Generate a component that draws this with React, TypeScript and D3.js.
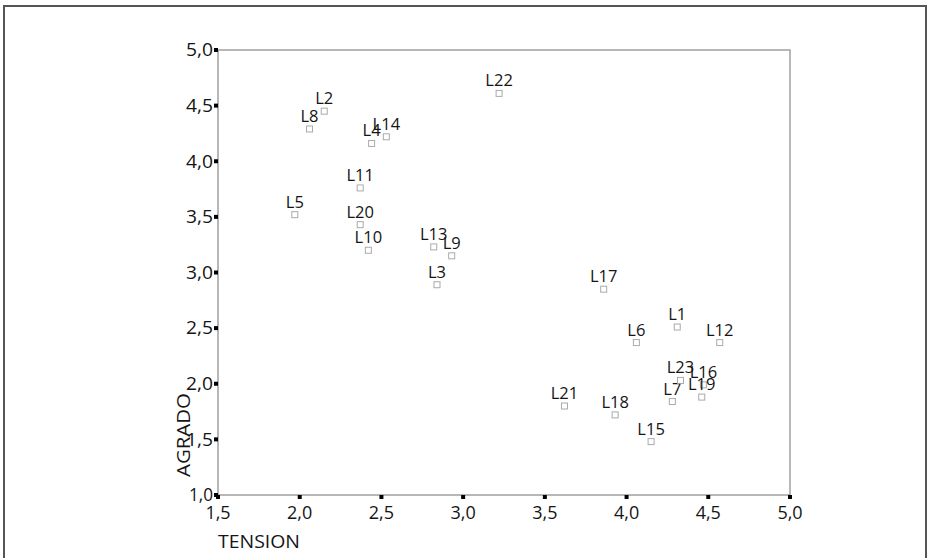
import * as d3 from 'd3';

const names = ['L1', 'L2', 'L3', 'L4', 'L5', 'L6', 'L7', 'L8', 'L9', 'L10', 'L11', 'L12',
  'L13', 'L14', 'L15', 'L16', 'L17', 'L18', 'L19', 'L20', 'L21', 'L22', 'L23'];
const tension = [4.31, 2.15, 2.84, 2.44, 1.97, 4.06, 4.28, 2.06, 2.93, 2.42, 2.37, 4.57,
  2.82, 2.53, 4.15, 4.47, 3.86, 3.93, 4.46, 2.37, 3.62, 3.22, 4.33];
const agrado = [2.51, 4.45, 2.89, 4.16, 3.52, 2.37, 1.84, 4.29, 3.15, 3.2, 3.76, 2.37,
  3.23, 4.22, 1.48, 1.99, 2.85, 1.72, 1.88, 3.43, 1.8, 4.61, 2.03];
const xTicks = [1.5, 2.0, 2.5, 3.0, 3.5, 4.0, 4.5, 5.0];
const yTicks = [1.0, 1.5, 2.0, 2.5, 3.0, 3.5, 4.0, 4.5, 5.0];

const W = 931;
const H = 558;
const font = '"Open Sans", "Noto Sans", sans-serif';
const ink = '#151515';

const fmt = (v: number) => v.toFixed(1).replace('.', ',');

export default function App() {
  const x = d3.scaleLinear().domain([1.5, 5]).range([218, 790]);
  const y = d3.scaleLinear().domain([1, 5]).range([495, 50]);
  const [x0, x1] = x.range();
  const [y0, y1] = y.range();

  return (
    <div style={{ position: 'fixed', left: 0, top: 0 }}>
      <svg width={W} height={H} style={{ display: 'block', background: '#fff' }}>
        {/* outer frame */}
        <rect x={4} y={6} width={922} height={H + 10} fill="none" stroke="#555" strokeWidth={2} />

        {/* plot box */}
        <rect x={x0} y={y1} width={x1 - x0} height={y0 - y1} fill="none" stroke="#a0a0a0" strokeWidth={1.5} />

        {/* y ticks */}
        {yTicks.map((t) => (
          <g key={'y' + t}>
            <rect x={x0 - 4} y={y(t) - 2} width={4} height={4} fill="#000" />
            <text x={x0 - 5} y={y(t)} dy="0.35em" textAnchor="end" fontFamily={font} fontSize={18} fill={ink}
              textLength={t === 1 ? 24 : 27} lengthAdjust="spacingAndGlyphs">
              {fmt(t)}
            </text>
          </g>
        ))}

        {/* x ticks */}
        {xTicks.map((t) => (
          <g key={'x' + t}>
            <rect x={x(t) - 2} y={y0} width={4} height={4} fill="#000" />
            <text x={x(t)} y={y0 + 24} textAnchor="middle" fontFamily={font} fontSize={18} fill={ink}>
              {fmt(t)}
            </text>
          </g>
        ))}

        {/* axis titles */}
        <text x={x0} y={548} fontFamily={font} fontSize={19} fill={ink} textLength={82} lengthAdjust="spacingAndGlyphs">
          TENSION
        </text>
        <text transform={`translate(190,435) rotate(-90)`} textAnchor="middle" fontFamily={font} fontSize={19} fill={ink}
          textLength={84} lengthAdjust="spacingAndGlyphs">
          AGRADO
        </text>

        {/* points */}
        {names.map((n, i) => {
          const px = x(tension[i]);
          const py = y(agrado[i]);
          return (
            <g key={n}>
              <rect x={px - 3} y={py - 3} width={6} height={6} fill="none" stroke="#aaa" strokeWidth={1} />
              <text x={px} y={py - 7} textAnchor="middle" fontFamily={font} fontSize={16.5} fill={ink}>
                {n}
              </text>
            </g>
          );
        })}
      </svg>
    </div>
  );
}
